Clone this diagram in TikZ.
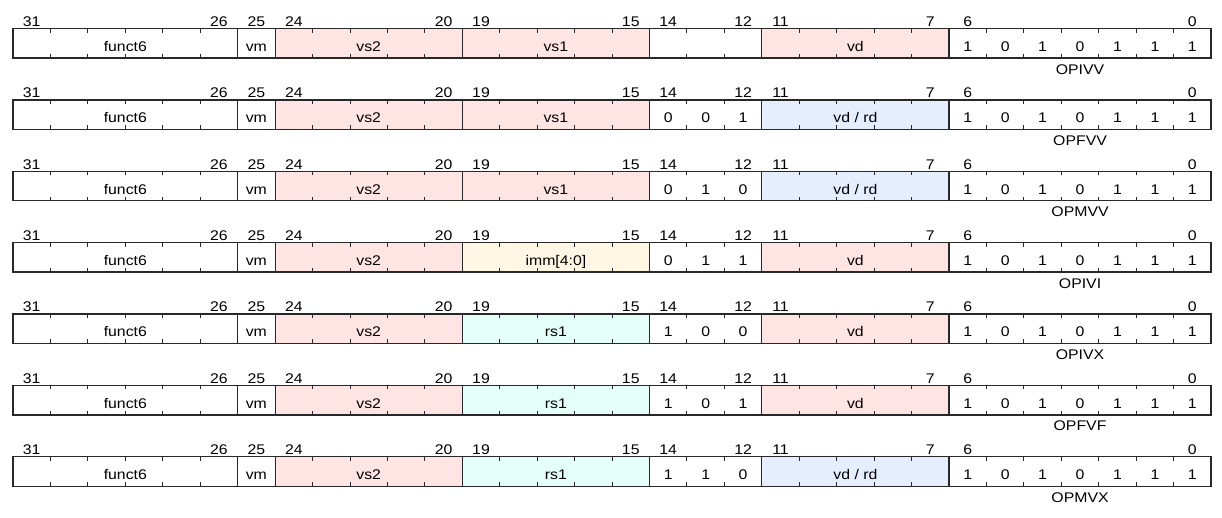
\documentclass[tikz,border=0pt]{standalone}
\usepackage{fontspec}
\setmainfont{Liberation Sans}
\usepackage{graphicx}
\definecolor{cpink}{RGB}{255,228,228}
\definecolor{cblue}{RGB}{228,238,255}
\definecolor{ccream}{RGB}{255,247,228}
\definecolor{ccyan}{RGB}{228,255,248}
\definecolor{cline}{RGB}{40,40,40}
\newcommand{\tx}[1]{\scalebox{1.13}[1]{#1}}
\newcommand{\bitx}[1]{(13+(#1)*37.44)}
\tikzset{
  lbl/.style={anchor=base, inner sep=0pt, font=\fontsize{14}{16}\selectfont, text=black},
  tickmark/.style={line width=0.9pt, draw=cline},
  sepline/.style={line width=1.1pt, draw=cline},
  outline/.style={line width=1.3pt, draw=cline},
}
% #1 row, #2 vs1 text, #3 vs1 colour, #4 #5 #6 funct3 bits, #7 vd text, #8 vd colour, #9 name
\newcommand{\encrow}[9]{%
  \pgfmathsetmacro\T{28.5+(#1-1)*71.37}
  \pgfmathsetmacro\B{\T+29.5}
  \fill[cpink] ({\bitx{7}},\T) rectangle ({\bitx{12}},\B);
  \fill[#3] ({\bitx{12}},\T) rectangle ({\bitx{17}},\B);
  \fill[#8] ({\bitx{20}},\T) rectangle ({\bitx{25}},\B);
  \foreach \k in {1,2,3,4,5,8,9,10,11,13,14,15,16,18,19,21,22,23,24,26,27,28,29,30,31}{
    \draw[tickmark] ({\bitx{\k}},\T) -- ++(0,4);
    \draw[tickmark] ({\bitx{\k}},\B) -- ++(0,-4);
  }
  \foreach \k in {6,7,12,17,20,25}{
    \draw[sepline] ({\bitx{\k}},\T) -- ({\bitx{\k}},\B);
  }
  \draw[outline] ({\bitx{0}},\T) rectangle ({\bitx{32}},\B);
  \foreach \n in {31,26,25,24,20,19,15,14,12,11,7,6,0}{
    \node[lbl] (r#1n\n) at ({\bitx{31-\n+0.5}},{\T-2}) {\tx{\n}};
  }
  \node[lbl] (r#1funct) at ({\bitx{3}},{\T+23}) {\tx{funct6}};
  \node[lbl] (r#1vm) at ({\bitx{6.5}},{\T+23}) {\tx{vm}};
  \node[lbl] (r#1vs2) at ({\bitx{9.5}},{\T+23}) {\tx{vs2}};
  \node[lbl] (r#1vs1) at ({\bitx{14.5}},{\T+23}) {\tx{#2}};
  \if\relax\detokenize{#4}\relax\else
    \node[lbl] (r#1fa) at ({\bitx{17.5}},{\T+23}) {\tx{#4}};
    \node[lbl] (r#1fb) at ({\bitx{18.5}},{\T+23}) {\tx{#5}};
    \node[lbl] (r#1fc) at ({\bitx{19.5}},{\T+23}) {\tx{#6}};
  \fi
  \node[lbl] (r#1vd) at ({\bitx{22.5}},{\T+23}) {\tx{#7}};
  \foreach[count=\i] \v in {1,0,1,0,1,1,1}{
    \node[lbl] (r#1op\i) at ({\bitx{24.5+\i}},{\T+23}) {\tx{\v}};
  }
  \node[lbl] (r#1name) at ({\bitx{28.5}},{\T+45.5}) {\tx{#9}};
}
\begin{document}
\begin{tikzpicture}[x=1pt,y=-1pt]
  \useasboundingbox (0,0) rectangle (1222,517);
  \encrow{1}{vs1}{cpink}{}{}{}{vd}{cpink}{OPIVV}
  \encrow{2}{vs1}{cpink}{0}{0}{1}{vd / rd}{cblue}{OPFVV}
  \encrow{3}{vs1}{cpink}{0}{1}{0}{vd / rd}{cblue}{OPMVV}
  \encrow{4}{imm[4:0]}{ccream}{0}{1}{1}{vd}{cpink}{OPIVI}
  \encrow{5}{rs1}{ccyan}{1}{0}{0}{vd}{cpink}{OPIVX}
  \encrow{6}{rs1}{ccyan}{1}{0}{1}{vd}{cpink}{OPFVF}
  \encrow{7}{rs1}{ccyan}{1}{1}{0}{vd / rd}{cblue}{OPMVX}
\end{tikzpicture}
\end{document}
